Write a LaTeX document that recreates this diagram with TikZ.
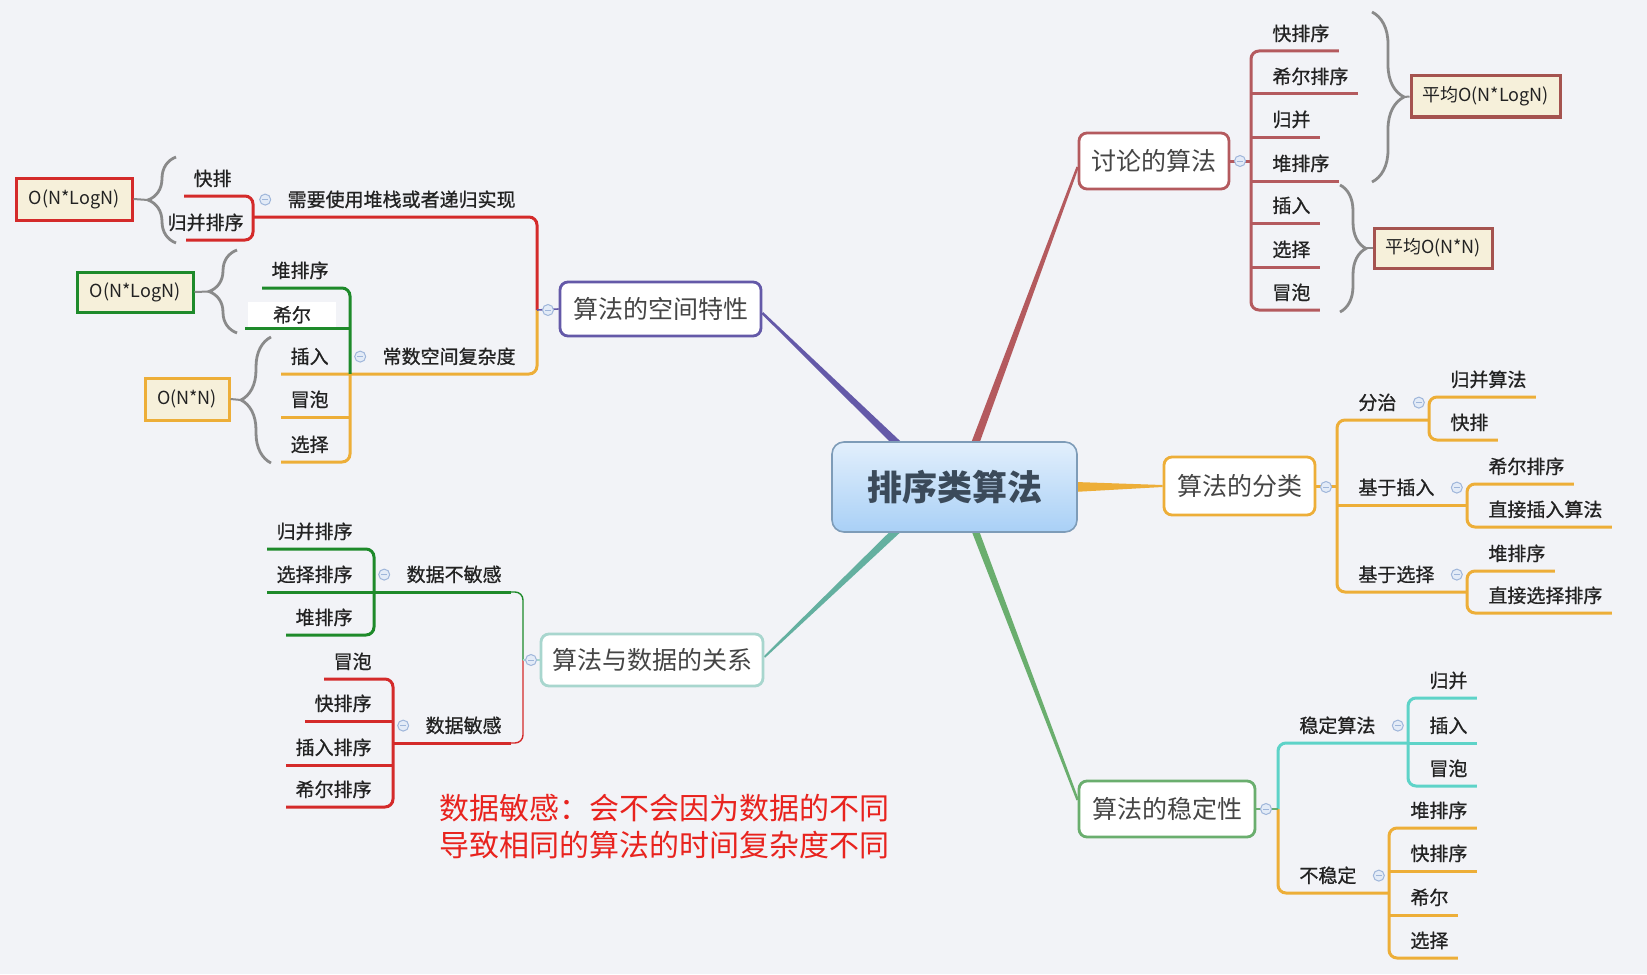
\documentclass[tikz,border=0pt]{standalone}
\usepackage{fontspec}
\setmainfont{Noto Sans CJK SC}
\newfontfamily\leaffont{Noto Sans CJK SC}[FakeBold=0.8]
\usepackage{tikz}
\usetikzlibrary{positioning,calc,decorations.pathreplacing,backgrounds}
\definecolor{bgc}{HTML}{F2F3F7}
\definecolor{txtc}{HTML}{222222}
\definecolor{topc}{HTML}{454545}
\definecolor{discc}{HTML}{B45A5E}
\definecolor{orgc}{HTML}{EDAE38}
\definecolor{stabc}{HTML}{6AAE6E}
\definecolor{tealc}{HTML}{5ED3C8}
\definecolor{relc}{HTML}{A8D6CE}
\definecolor{relt}{HTML}{64B0A0}
\definecolor{purc}{HTML}{6459A8}
\definecolor{redc}{HTML}{D42A2A}
\definecolor{grnc}{HTML}{1E8A2A}
\definecolor{bracec}{HTML}{8A8A8A}
\definecolor{boxf}{HTML}{F6F0DA}
\definecolor{avgc}{HTML}{A5534F}
\definecolor{foldc}{HTML}{9FB6DA}
\definecolor{foldf}{HTML}{E3EBF7}
\definecolor{rootb}{HTML}{7E9CB8}
\definecolor{roottop}{HTML}{E2EFFC}
\definecolor{rootbot}{HTML}{A9D0F6}
\definecolor{rootc}{HTML}{3B4A5A}
\definecolor{notec}{HTML}{E8231E}
\newcommand{\trunk}[5]{\fill[#1] ($(#2)!#4!90:(#3)$) -- ($(#3)!#5!-90:(#2)$) -- ($(#3)!#5!90:(#2)$) -- ($(#2)!#4!-90:(#3)$) -- cycle;}

\begin{document}
\begin{tikzpicture}[x=0.5pt, y=-0.5pt,
  leaf/.style={font=\leaffont\fontsize{9.5}{11}\selectfont, text=txtc, inner xsep=4.5pt, inner ysep=4pt, text height=8pt, text depth=1pt},
  topic/.style={draw, fill=white, rounded corners=4pt, line width=1.4pt, inner sep=0pt, font=\fontsize{12.5}{14}\selectfont, text=topc},
  rootbox/.style={draw=rootb, line width=0.8pt, rounded corners=6pt, top color=roottop, bottom color=rootbot, minimum width=122.5pt, minimum height=45pt, font=\fontsize{17.5}{20}\selectfont\bfseries, text=rootc},
  cbox/.style={draw, fill=boxf, line width=1.5pt, inner sep=0pt, font=\fontsize{9}{11}\selectfont, text=txtc},
  fold/.style={circle, draw=foldc, fill=foldf, line width=0.5pt, minimum size=5.5pt, inner sep=0pt,
     path picture={\draw[foldc, line width=0.5pt] ([xshift=1.3pt]path picture bounding box.west) -- ([xshift=-1.3pt]path picture bounding box.east);}},
  ln/.style={line width=1.5pt, rounded corners=4pt},
  brc/.style={bracec, line width=1.4pt, decorate, decoration={brace, amplitude=#1}},
  tipln/.style={bracec, line width=1pt}]
  \begin{scope}[on background layer]
    \fill[bgc] (0,0) rectangle (1647,974);
  \end{scope}
  \useasboundingbox (0,0) rectangle (1647,974);

  % centre and topics
  \node[rootbox] (root) at (954.5,487) {排序类算法};
  \node[topic, draw=discc, minimum width=75pt, minimum height=28pt] (disc) at (1154,161) {讨论的算法};
  \node[topic, draw=orgc, minimum width=75.5pt, minimum height=29pt] (cls) at (1239.5,486) {算法的分类};
  \node[topic, draw=stabc, minimum width=88pt, minimum height=28pt] (stab) at (1167,809) {算法的稳定性};
  \node[topic, draw=relc, minimum width=111pt, minimum height=26pt] (rel) at (652,660) {算法与数据的关系};
  \node[topic, draw=purc, minimum width=100.5pt, minimum height=27pt] (spc) at (660.5,309) {算法的空间特性};

  % 讨论的算法
  \coordinate (sD) at (1251,161);
  \foreach \w/\y [count=\i] in {快排序/51,希尔排序/94,归并/137,堆排序/181,插入/223,选择/267,冒泡/310}
     \node[leaf, anchor=south west] (d\i) at (1263,\y) {\w};
  \draw[ln, discc] (d1.south east) -- ([xshift=-6pt]d1.south west) -- ([xshift=-6pt]d7.south west) -- (d7.south east);
  \foreach \i in {2,...,6} \draw[ln, discc] ([xshift=-6pt]d\i.south west) -- (d\i.south east);
  \draw[ln, discc] (disc.east) -- (sD);
  \node[fold] (fD) at (1240,161) {};
  \draw[brc=16pt] (1372,12) -- (1372,182);
  \coordinate (b1) at (1404,97);
  \node[cbox, draw=avgc, minimum width=74.5pt, minimum height=20.5pt] (avg1) at (1485.5,96.5) {平均O(N*LogN)};
  \draw[tipln] (b1) -- (avg1.west);
  \draw[brc=13pt] (1340,185) -- (1340,312);
  \coordinate (b2) at (1366,248);
  \node[cbox, draw=avgc, minimum width=59pt, minimum height=20pt] (avg2) at (1433,248) {平均O(N*N)};
  \draw[tipln] (b2) -- (avg2.west);

  % 算法的分类
  \coordinate (sC) at (1337,486);
  \foreach \w/\y [count=\i] in {分治/420,基于插入/505,基于选择/592}
     \node[leaf, anchor=south west] (c\i) at (1349,\y) {\w};
  \foreach \w/\y/\x [count=\i] in {归并算法/397/1441,快排/440/1441,希尔排序/484/1479,直接插入算法/527/1479,堆排序/571/1479,直接选择排序/613/1479}
     \node[leaf, anchor=south west] (k\i) at (\x,\y) {\w};
  \draw[ln, orgc] ([xshift=12pt]c1.south east) -- (sC |- c1.south) -- (sC |- c3.south) -- ([xshift=12pt]c3.south east);
  \draw[ln, orgc] (sC |- c2.south) -- ([xshift=12pt]c2.south east);
  \draw[ln, orgc] (cls.east) -- (sC);
  \foreach \a/\b in {1/2,3/4,5/6}
     \draw[ln, orgc] (k\a.south east) -- ([xshift=-6pt]k\a.south west) -- ([xshift=-6pt]k\b.south west) -- (k\b.south east);
  \node[fold] (fC) at (1326,487) {};
  \foreach \i in {1,2,3} \node[fold] (fc\i) at ([xshift=6.5pt]c\i.east) {};

  % 算法的稳定性
  \coordinate (sS) at (1278,809);
  \node[leaf, anchor=south west] (t1) at (1290,743) {稳定算法};
  \node[leaf, anchor=south west] (t2) at (1290,893) {不稳定};
  \foreach \w/\y/\x [count=\i] in {归并/698/1420,插入/743/1420,冒泡/786/1420,堆排序/828/1401,快排序/871/1401,希尔/915/1401,选择/958/1401}
     \node[leaf, anchor=south west] (m\i) at (\x,\y) {\w};
  \draw[ln, tealc] (sS) -- (sS |- t1.south) -- ([xshift=12pt]t1.south east);
  \draw[ln, orgc] (sS) -- (sS |- t2.south) -- ([xshift=12pt]t2.south east);
  \draw[stabc, line width=0.8pt] (stab.east) -- (sS);
  \draw[ln, tealc] (m1.south east) -- ([xshift=-6pt]m1.south west) -- ([xshift=-6pt]m3.south west) -- (m3.south east);
  \draw[ln, tealc] ([xshift=-6pt]m2.south west) -- (m2.south east);
  \draw[ln, orgc] (m4.south east) -- ([xshift=-6pt]m4.south west) -- ([xshift=-6pt]m7.south west) -- (m7.south east);
  \foreach \i in {5,6} \draw[ln, orgc] ([xshift=-6pt]m\i.south west) -- (m\i.south east);
  \node[fold] (fS) at (1266,809) {};
  \node[fold] (ft1) at ([xshift=6.5pt]t1.east) {};
  \node[fold] (ft2) at ([xshift=6.5pt]t2.east) {};

  % 算法与数据的关系
  \coordinate (sR) at (523,660);
  \node[leaf, anchor=south east] (r1) at (511,592) {数据不敏感};
  \node[leaf, anchor=south east] (r2) at (511,743) {数据敏感};
  \foreach \w/\y/\x [count=\i] in {归并排序/549/362,选择排序/592/362,堆排序/635/362,冒泡/679/381,快排序/721/381,插入排序/765/381,希尔排序/807/381}
     \node[leaf, anchor=south east] (e\i) at (\x,\y) {\w};
  \draw[grnc, line width=0.7pt, rounded corners=4pt] (sR) -- (sR |- r1.south) -- (r1.south east);
  \draw[redc, line width=0.7pt, rounded corners=4pt] (sR) -- (sR |- r2.south) -- (r2.south east);
  \draw[ln, grnc] (r1.south east) -- ([xshift=-12pt]r1.south west);
  \draw[ln, redc] (r2.south east) -- ([xshift=-12pt]r2.south west);
  \draw[relc, line width=0.8pt] (rel.west) -- (sR);
  \draw[ln, grnc] (e1.south west) -- ([xshift=6pt]e1.south east) -- ([xshift=6pt]e3.south east) -- (e3.south west);
  \draw[ln, grnc] ([xshift=6pt]e2.south east) -- (e2.south west);
  \draw[ln, redc] (e4.south west) -- ([xshift=6pt]e4.south east) -- ([xshift=6pt]e7.south east) -- (e7.south west);
  \foreach \i in {5,6} \draw[ln, redc] ([xshift=6pt]e\i.south east) -- (e\i.south west);
  \node[fold] (fR) at (531,660) {};
  \node[fold] (fr1) at ([xshift=-6.5pt]r1.west) {};
  \node[fold] (fr2) at ([xshift=-6.5pt]r2.west) {};

  % 算法的空间特性
  \coordinate (sP) at (537,310);
  \node[leaf, anchor=south east] (p1) at (525,217) {需要使用堆栈或者递归实现};
  \node[leaf, anchor=south east] (p2) at (525,374) {常数空间复杂度};
  \node[leaf, anchor=south east] (q1) at (241,196) {快排};
  \node[leaf, anchor=south east] (q2) at (253,240) {归并排序};
  \node[leaf, anchor=south east] (g1) at (338,288) {堆排序};
  \node[leaf, fill=white, inner sep=0pt, minimum width=44pt, minimum height=13pt] (g2) at (292,315) {希尔};
  \foreach \w/\y [count=\i] in {插入/374,冒泡/417,选择/462}
     \node[leaf, anchor=south east] (o\i) at (338,\y) {\w};
  \draw[ln, redc] (sP) -- (sP |- p1.south) -- ([xshift=-12pt]p1.south west);
  \draw[ln, orgc] (sP) -- (sP |- p2.south) -- (o1.south west);
  \draw[purc, line width=0.8pt] (spc.west) -- (sP);
  \draw[ln, redc] (q1.south west) -- ([xshift=6pt]q1.south east) -- ([xshift=6pt]q1.south east |- q2.south) -- ([xshift=14pt]q2.south west);
  \draw[ln, grnc] (g1.south west) -- ([xshift=6pt]g1.south east) -- ([xshift=6pt]g1.south east |- o1.south);
  \draw[ln, grnc] ([xshift=6pt]g1.south east |- g2.south) -- ([xshift=-1.5pt]g2.south west);
  \draw[ln, orgc] ([xshift=6pt]o1.south east) -- ([xshift=6pt]o3.south east) -- (o3.south west);
  \draw[ln, orgc] ([xshift=6pt]o2.south east) -- (o2.south west);
  \node[fold] (fP) at (548,310) {};
  \node[fold] (fp1) at ([xshift=-6.5pt]p1.west) {};
  \node[fold] (fp2) at ([xshift=-6.5pt]p2.west) {};
  \node[cbox, draw=redc, minimum width=58pt, minimum height=21pt] (bx1) at (74,199) {O(N*LogN)};
  \node[cbox, draw=grnc, minimum width=58pt, minimum height=20pt] (bx2) at (135,292) {O(N*LogN)};
  \node[cbox, draw=orgc, minimum width=42pt, minimum height=21pt] (bx3) at (187,399) {O(N*N)};
  \draw[brc=14pt] (176,243) -- (176,157);
  \draw[brc=14pt] (237,333) -- (237,250);
  \draw[brc=15pt] (271,463) -- (271,337);
  \coordinate (b3) at (148,200);
  \coordinate (b4) at (209,291.5);
  \coordinate (b5) at (241,400);
  \draw[tipln] (bx1.east) -- (b3);
  \draw[tipln] (bx2.east) -- (b4);
  \draw[tipln] (bx3.east) -- (b5);

  % note
  \node[anchor=west, align=left, inner sep=0pt, font=\fontsize{15}{18.5}\selectfont, text=notec] (note) at (439,826.5)
     {数据敏感：会不会因为数据的不同\\导致相同的算法的时间复杂度不同};

  % trunks
  \coordinate (tP0) at ([xshift=-25.75pt,yshift=-4pt]root.north);
  \coordinate (tP1) at ([yshift=-2pt]spc.east);
  \coordinate (tD0) at ([xshift=9.25pt,yshift=-4pt]root.north);
  \coordinate (tD1) at ([yshift=-3pt]disc.west);
  \coordinate (tR0) at ([xshift=-26pt,yshift=4pt]root.south);
  \coordinate (tR1) at ([yshift=1.5pt]rel.east);
  \coordinate (tS0) at ([xshift=9.25pt,yshift=4pt]root.south);
  \coordinate (tS1) at ([yshift=4.5pt]stab.west);
  \coordinate (tC0) at ([xshift=-4pt]root.east);
  \begin{scope}[on background layer]
    \trunk{purc}{tP0}{tP1}{2pt}{0.6pt}
    \trunk{discc}{tD0}{tD1}{2pt}{0.6pt}
    \trunk{relt}{tR0}{tR1}{2pt}{0.5pt}
    \trunk{stabc}{tS0}{tS1}{1.8pt}{0.6pt}
    \trunk{orgc}{tC0}{cls.west}{2.6pt}{0.5pt}
  \end{scope}
\end{tikzpicture}
\end{document}
